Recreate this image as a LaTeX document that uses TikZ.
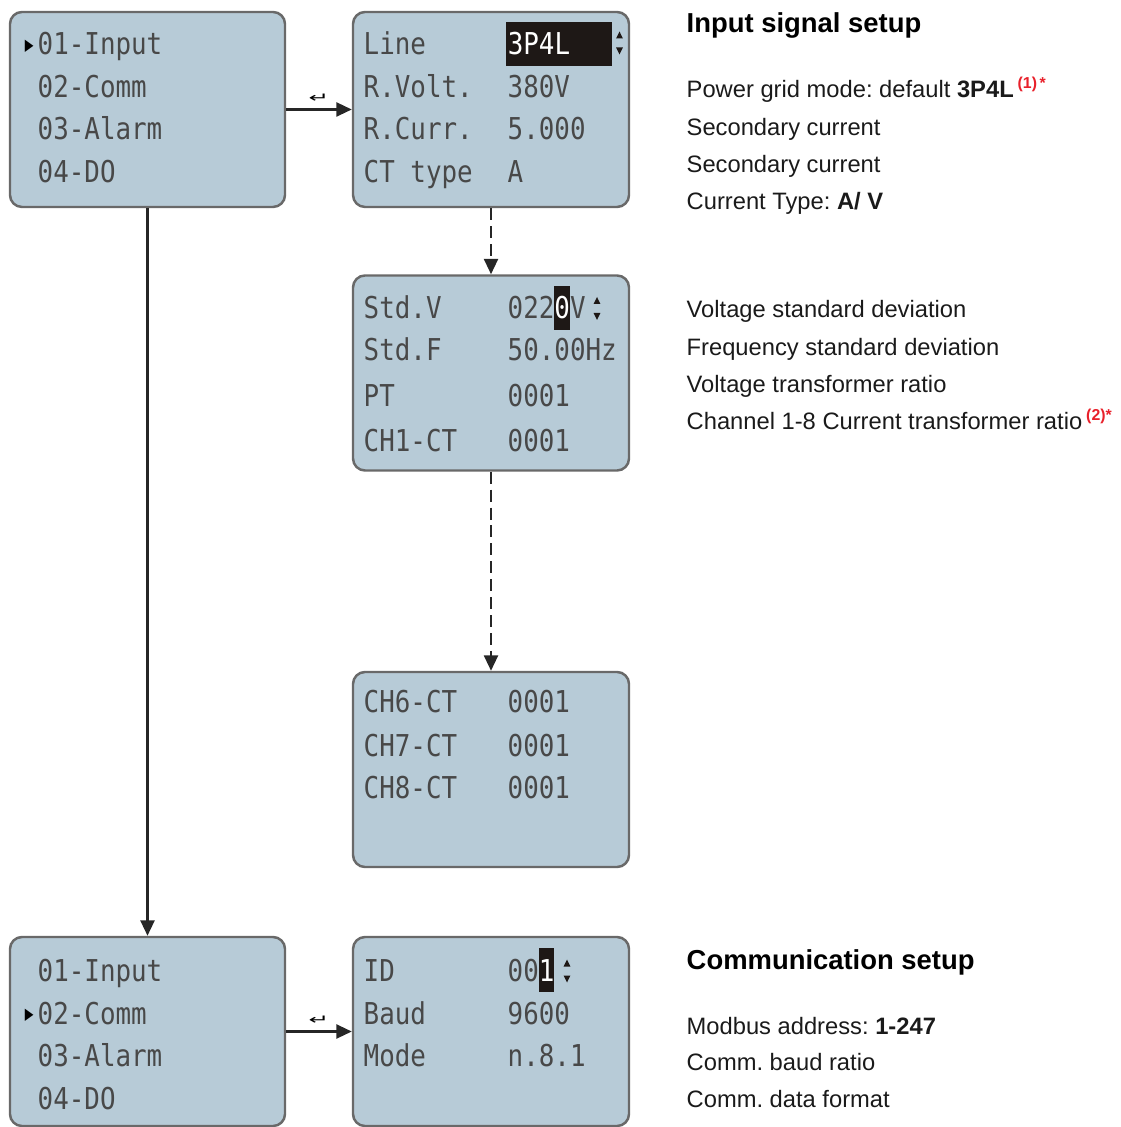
\documentclass[tikz,border=0pt]{standalone}
\usepackage{fontspec}
\setmainfont{Liberation Sans}
\newfontfamily\lcd[FakeStretch=0.86]{DejaVu Sans Mono}
\newfontfamily\symfont{DejaVu Sans}
\usetikzlibrary{arrows.meta}
\definecolor{lcdblue}{RGB}{183,203,215}
\definecolor{lcdedge}{RGB}{105,105,105}
\definecolor{lcdtext}{RGB}{72,72,72}
\definecolor{lcdhi}{RGB}{30,24,22}
\definecolor{notered}{RGB}{232,32,42}
\definecolor{inktext}{RGB}{26,26,26}
\newcommand{\hl}[1]{{\setlength{\fboxsep}{0pt}\colorbox{lcdhi}{\rule[-3pt]{0pt}{12.3pt}\color{white}#1}}}
\newcommand{\cur}{\llap{\color{black}\raisebox{1.3pt}{\symfont\fontsize{4.6}{5}\selectfont\scalebox{0.7}[1]{▶}}\hspace{1.2pt}}}
\newcommand{\note}[1]{\raisebox{2.8pt}{\fontsize{4.5}{5}\selectfont\bfseries\color{notered}#1}}
\newcommand{\updn}[1]{\fill[lcdhi,shift={#1}] (-.034,.045) -- (.034,.045) -- (0,.115) -- cycle (-.034,-.045) -- (.034,-.045) -- (0,-.115) -- cycle;}
\frenchspacing

\begin{document}
\begin{tikzpicture}
\tikzstyle{screen} = [rectangle, rounded corners=3.4pt, minimum width=2.76cm, minimum height=1.95cm, fill=lcdblue, draw=lcdedge, line width=0.7pt, inner sep=0pt]
\tikzstyle{lcdtxt} = [anchor=base west, inner sep=0pt, text=lcdtext, font=\lcd\fontsize{8.56}{10}\selectfont]
\tikzstyle{desc} = [anchor=base west, inner sep=0pt, text=inktext, font=\fontsize{6.75}{8}\selectfont]
\tikzstyle{head} = [anchor=base west, inner sep=0pt, text=black, font=\fontsize{7.8}{9}\selectfont\bfseries]
\tikzstyle{link} = [draw=black!85, line width=0.65pt, -{Triangle[length=4.4pt,width=4pt]}]
\tikzstyle{dashlink} = [link, dash pattern=on 3.4pt off 1.7pt]
\clip (0,0) rectangle (11.2,-11.27);

\node[screen, minimum width=2.75cm] (M1) at (1.475,-1.095) {};
\node[screen] (S1) at (4.91,-1.095) {};
\node[screen] (S2) at (4.91,-3.73) {};
\node[screen] (S3) at (4.91,-7.695) {};
\node[screen, minimum width=2.75cm, minimum height=1.89cm] (M2) at (1.475,-10.315) {};
\node[screen, minimum height=1.89cm] (S4) at (4.91,-10.315) {};

\node[lcdtxt] (m11) at (0.37,-0.55) {\cur 01-Input};
\node[lcdtxt] (m12) at (0.37,-0.975) {02-Comm};
\node[lcdtxt] (m13) at (0.37,-1.40) {03-Alarm};
\node[lcdtxt] (m14) at (0.37,-1.825) {04-DO};

\node[lcdtxt] (a1) at (3.63,-0.55) {Line};
\node[lcdtxt] (b1) at (5.05,-0.55) {\hl{\makebox[30.3pt][l]{\hspace{0.6pt}3P4L}}};
\node[lcdtxt] (a2) at (3.63,-0.975) {R.Volt.};
\node[lcdtxt] (b2) at (5.07,-0.975) {380V};
\node[lcdtxt] (a3) at (3.63,-1.40) {R.Curr.};
\node[lcdtxt] (b3) at (5.07,-1.40) {5.000};
\node[lcdtxt] (a4) at (3.63,-1.825) {CT type};
\node[lcdtxt] (b4) at (5.07,-1.825) {A};
\updn{(6.195,-0.43)}

\node[lcdtxt] (a5) at (3.63,-3.19) {Std.V};
\node[lcdtxt] (b5) at (5.07,-3.19) {022\hl{0}V};
\node[lcdtxt] (a6) at (3.63,-3.61) {Std.F};
\node[lcdtxt] (b6) at (5.07,-3.61) {50.00Hz};
\node[lcdtxt] (a7) at (3.63,-4.07) {PT};
\node[lcdtxt] (b7) at (5.07,-4.07) {0001};
\node[lcdtxt] (a8) at (3.63,-4.52) {CH1-CT};
\node[lcdtxt] (b8) at (5.07,-4.52) {0001};
\updn{(5.97,-3.085)}

\node[lcdtxt] (a9) at (3.63,-7.12) {CH6-CT};
\node[lcdtxt] (b9) at (5.07,-7.12) {0001};
\node[lcdtxt] (a10) at (3.63,-7.56) {CH7-CT};
\node[lcdtxt] (b10) at (5.07,-7.56) {0001};
\node[lcdtxt] (a11) at (3.63,-7.98) {CH8-CT};
\node[lcdtxt] (b11) at (5.07,-7.98) {0001};

\node[lcdtxt] (m21) at (0.37,-9.81) {01-Input};
\node[lcdtxt] (m22) at (0.37,-10.24) {\cur 02-Comm};
\node[lcdtxt] (m23) at (0.37,-10.66) {03-Alarm};
\node[lcdtxt] (m24) at (0.37,-11.09) {04-DO};

\node[lcdtxt] (a12) at (3.63,-9.81) {ID};
\node[lcdtxt] (b12) at (5.07,-9.81) {00\hl{1}};
\node[lcdtxt] (a13) at (3.63,-10.24) {Baud};
\node[lcdtxt] (b13) at (5.07,-10.24) {9600};
\node[lcdtxt] (a14) at (3.63,-10.66) {Mode};
\node[lcdtxt] (b14) at (5.07,-10.66) {n.8.1};
\updn{(5.67,-9.71)}

\draw[link] (M1) -- (S1) node[pos=.5,above=0.06cm,inner sep=0pt] (E1) {\symfont\fontsize{7}{7}\selectfont\scalebox{1}[0.55]{↵}};
\draw[link] (M1) -- (M2);
\draw[dashlink] (S1) -- (S2);
\draw[dashlink] (S2) -- (S3);
\draw[link] (M2) -- (S4) node[pos=.5,above=0.06cm,inner sep=0pt] (E2) {\symfont\fontsize{7}{7}\selectfont\scalebox{1}[0.55]{↵}};

\node[head] (H1) at (6.86,-0.33) {Input signal setup};
\node[desc] (D1) at (6.86,-0.98) {Power grid mode: default \textbf{3P4L}\,\note{(1)\,*}};
\node[desc] (D2) at (6.86,-1.36) {Secondary current};
\node[desc] (D3) at (6.86,-1.73) {Secondary current};
\node[desc] (D4) at (6.86,-2.10) {Current Type: \textbf{A/ V}};
\node[desc] (D5) at (6.86,-3.18) {Voltage standard deviation};
\node[desc] (D6) at (6.86,-3.56) {Frequency standard deviation};
\node[desc] (D7) at (6.86,-3.93) {Voltage transformer ratio};
\node[desc] (D8) at (6.86,-4.30) {Channel 1-8 Current transformer ratio\,\note{(2)*}};
\node[head] (H2) at (6.86,-9.69) {Communication setup};
\node[desc] (D9) at (6.86,-10.34) {Modbus address: \textbf{1-247}};
\node[desc] (D10) at (6.86,-10.70) {Comm. baud ratio};
\node[desc] (D11) at (6.86,-11.07) {Comm. data format};
\end{tikzpicture}
\end{document}
